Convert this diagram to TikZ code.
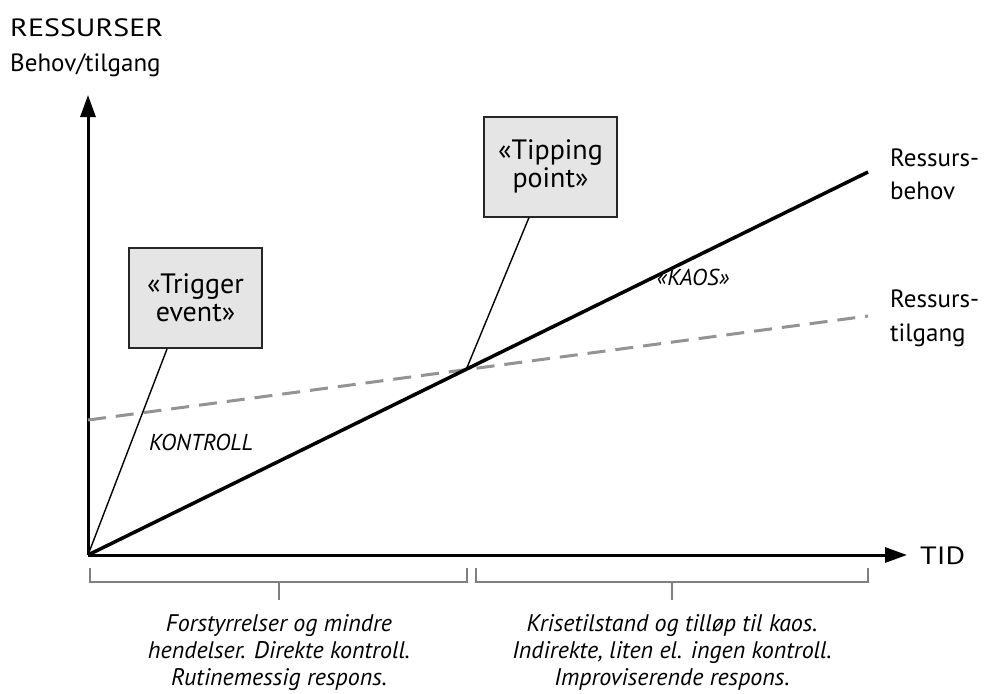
\documentclass[tikz,border=0pt]{standalone}
\usepackage{fontspec}
\setmainfont{PT Sans}
\usetikzlibrary{arrows.meta}
\newcommand{\fsz}[1]{\fontsize{#1}{#1}\selectfont}
\newcommand{\widecaps}[1]{\scalebox{1.2}[1]{#1}}
\begin{document}
\begin{tikzpicture}[x=1pt,y=-1pt,
  axis/.style={line width=3pt,-{Triangle[length=22pt,width=15pt]}},
  need/.style={line width=3.5pt},
  supply/.style={line width=3pt,color=gray!85,dash pattern=on 18pt off 10pt},
  callout/.style={draw=black!85,line width=2pt,fill=black!10,minimum width=133pt,minimum height=100pt,align=center,font=\fsz{28}},
  leader/.style={line width=1.4pt},
  lbl/.style={font=\fsz{25},anchor=west,align=left,inner sep=0pt},
  zone/.style={font=\itshape\fsz{23},inner sep=0pt},
  note/.style={font=\itshape\fsz{24},align=center,inner sep=0pt,text depth=0pt},
  brk/.style={draw=gray,line width=1.2pt}]
\useasboundingbox (0,0) rectangle (987,693);
\coordinate (O) at (88,555);
\coordinate (Ytop) at (88,95);
\coordinate (Xend) at (907,555);
\coordinate (Nend) at (868,172);
\coordinate (Sstart) at (88,420);
\coordinate (Send) at (868,316);
\coordinate (X) at (466,370);
\coordinate (Tfoot) at (167,348);
\coordinate (Pfoot) at (529,217);
% axes
\draw[axis] (O) -- (Ytop);
\draw[axis] (O) -- (Xend);
% lines
\draw[supply] (Sstart) -- (Send);
\draw[need] (O) -- (Nend);
% callouts
\node[callout] (trig) at (195.5,298) {«Trigger\\event»};
\node[callout] (tip) at (550.5,166.5) {«Tipping\\point»};
\draw[leader] (O) -- (trig.south -| Tfoot);
\draw[leader] (X) -- (tip.south -| Pfoot);
% labels
\node[lbl,anchor=base west] (yl1) at (10,37) {\widecaps{RESSURSER}};
\node[lbl,anchor=base west] (yl2) at (10,71) {Behov/tilgang};
\node[lbl,anchor=base west] (tid) at (920,564) {\widecaps{TID}};
\node[lbl,anchor=base west] (nb1) at (890,166) {Ressurs-};
\node[lbl,anchor=base west] (nb2) at (890,199) {behov};
\node[lbl,anchor=base west] (st1) at (890,307) {Ressurs-};
\node[lbl,anchor=base west] (st2) at (890,341) {tilgang};
\node[zone,anchor=base] (kon) at (201,450) {KONTROLL};
\node[zone,anchor=base] (kaos) at (693,285) {«KAOS»};
% brackets
\draw[brk] (90,568) -- (90,582) -- (467,582) -- (467,568);
\draw[brk] (279,582) -- (279,600);
\draw[brk] (476,568) -- (476,582) -- (868,582) -- (868,568);
\draw[brk] (672,582) -- (672,600);
\node[note,anchor=base] (n1a) at (279,631) {Forstyrrelser og mindre};
\node[note,anchor=base] (n1b) at (279,658) {hendelser. Direkte kontroll.};
\node[note,anchor=base] (n1c) at (279,685) {Rutinemessig respons.};
\node[note,anchor=base] (n2a) at (672,631) {Krisetilstand og tilløp til kaos.};
\node[note,anchor=base] (n2b) at (672,658) {Indirekte, liten el. ingen kontroll.};
\node[note,anchor=base] (n2c) at (672,685) {Improviserende respons.};
\end{tikzpicture}
\end{document}
